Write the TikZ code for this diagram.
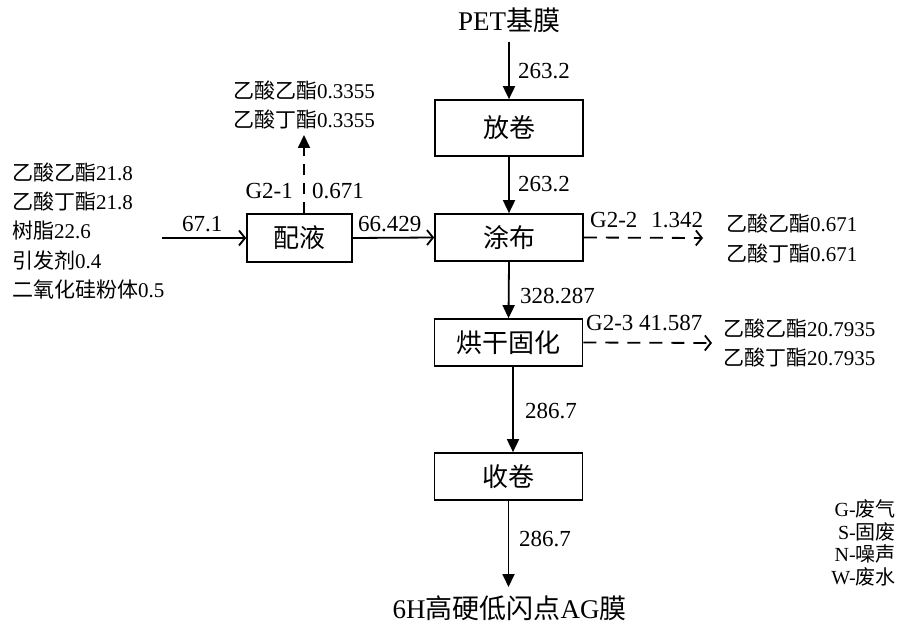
\documentclass[tikz,border=0pt]{standalone}
\usepackage{fontspec}
\setmainfont{Liberation Serif}
\newfontfamily\cjk{Noto Sans CJK SC}
\usetikzlibrary{arrows.meta}
\begin{document}
\begin{tikzpicture}[x=1pt,y=-1pt,
  box/.style={draw, line width=1.7pt, minimum width=148pt, minimum height=47pt, inner sep=0pt, font=\fontsize{26}{30}\selectfont},
  big/.style={inner sep=0pt, anchor=base, font=\fontsize{27}{30}\selectfont},
  lbl/.style={inner sep=0pt, anchor=base west, font=\fontsize{23}{26}\selectfont},
  side/.style={inner sep=0pt, anchor=base west, font=\fontsize{21}{24}\selectfont},
  legend/.style={inner sep=0pt, anchor=base east, font=\fontsize{20}{23}\selectfont},
  flow/.style={line width=1.8pt, -{Triangle[length=13pt,width=12pt]}},
  openflow/.style={line width=1.8pt, -{Straight Barb[length=6pt,width=15pt,line width=1.8pt]}},
  gas/.style={openflow, dash pattern=on 13pt off 9pt}]
\useasboundingbox (0,0) rectangle (901,628);

% process boxes
\node[box, minimum height=56pt] (fj) at (509,128) {{\cjk 放卷}};
\node[box] (tb) at (509,237.5) {{\cjk 涂布}};
\node[box, minimum width=105pt, minimum height=48pt] (py) at (299.5,238) {{\cjk 配液}};
\node[box] (hg) at (508.5,342.5) {{\cjk 烘干固化}};
\node[box] (sj) at (508.5,476.5) {{\cjk 收卷}};

% start / end texts
\node[big] (pet) at (509,30.5) {PET{\cjk 基膜}};
\node[big] (prod) at (509.5,618.5) {6H{\cjk 高硬低闪点}AG{\cjk 膜}};
\coordinate (petend) at (509,42);
\coordinate (prodend) at (508.5,587);
\coordinate (inp) at (162,238);
\coordinate (g1end) at (304,135);
\coordinate (g2end) at (703,238);
\coordinate (g3end) at (712,343);

% main flow
\draw[flow] (petend) -- (fj.north);
\draw[flow] (fj.south) -- (tb.north);
\draw[flow] (tb.south) -- (hg.north);
\draw[flow] ([xshift=4.5pt]hg.south) -- ([xshift=4.5pt]sj.north);
\draw[flow] (sj.south) -- (prodend);
\draw[openflow] (inp) -- (py.west);
\draw[openflow] (py.east) -- (tb.west);

% waste gas
\draw[flow, dash pattern=on 11pt off 8pt] ([xshift=4.5pt]py.north) -- (g1end);
\draw[gas] (tb.east) -- (g2end);
\draw[gas] (hg.east) -- (g3end);

% flow labels
\node[lbl] (l1) at (518,79) {263.2};
\node[lbl] (l2) at (518,192) {263.2};
\node[lbl] (l3) at (520,303) {328.287};
\node[lbl] (l4) at (525,418) {286.7};
\node[lbl] (l5) at (519,546) {286.7};
\node[lbl] (l6) at (182,232) {67.1};
\node[lbl] (l7) at (358,232) {66.429};
\node[lbl, anchor=base east] (g1a) at (293,199) {G2-1};
\node[lbl] (g1b) at (312,199) {0.671};
\node[lbl] (g2) at (590,227) {G2-2\hspace{0.6em}1.342};
\node[lbl] (g3) at (586,330) {G2-3 41.587};

% material lists
\node[side] (m1) at (12,181) {{\cjk 乙酸乙酯}21.8};
\node[side] (m2) at (12,210) {{\cjk 乙酸丁酯}21.8};
\node[side] (m3) at (12,239) {{\cjk 树脂}22.6};
\node[side] (m4) at (12,268) {{\cjk 引发剂}0.4};
\node[side] (m5) at (12,297) {{\cjk 二氧化硅粉体}0.5};

\node[side] (e1) at (233,99) {{\cjk 乙酸乙酯}0.3355};
\node[side] (e2) at (233,128) {{\cjk 乙酸丁酯}0.3355};
\node[side] (e3) at (726,231) {{\cjk 乙酸乙酯}0.671};
\node[side] (e4) at (726,261) {{\cjk 乙酸丁酯}0.671};
\node[side] (e5) at (723,336) {{\cjk 乙酸乙酯}20.7935};
\node[side] (e6) at (723,365) {{\cjk 乙酸丁酯}20.7935};

% legend
\node[legend] (k1) at (896,516) {G-{\cjk 废气}};
\node[legend] (k2) at (896,539) {S-{\cjk 固废}};
\node[legend] (k3) at (896,561) {N-{\cjk 噪声}};
\node[legend] (k4) at (896,584) {W-{\cjk 废水}};
\end{tikzpicture}
\end{document}
